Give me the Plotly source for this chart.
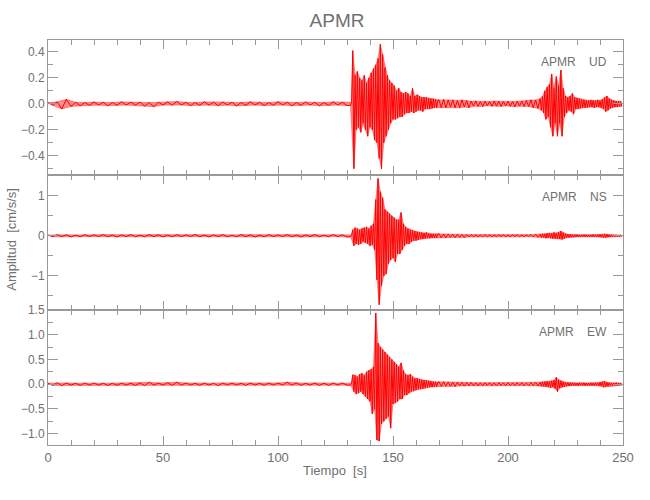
import plotly.graph_objects as go
from plotly.subplots import make_subplots

# ---------------- data (amplitudes, cm/s/s) ----------------
# sampling segments: (start time [s], sample step [s])
seg_pre = (0.0, 2.0)
seg_main = (131.5, 0.5)
seg_coda = (170.0, 1.0)
seg_late = (214.0, 0.5)

ud_pre = [0.010, -0.012, 0.015, -0.040, 0.035, -0.020, 0.012, -0.015, 0.010, -0.012,
          0.014, -0.010, 0.012, -0.015, 0.010, -0.012, 0.015, -0.010, 0.012, -0.010,
          0.014, -0.018, 0.010, -0.022, 0.012, -0.010, 0.015, -0.012, 0.018, -0.010,
          0.012, -0.014, 0.010, -0.012, 0.015, -0.010, 0.012, -0.015, 0.014, -0.010,
          0.012, -0.016, 0.010, -0.012, 0.015, -0.010, 0.012, -0.014, 0.010, -0.012,
          0.016, -0.010, 0.012, -0.015, 0.010, -0.012, 0.014, -0.010, 0.012, -0.015,
          0.010, -0.012, 0.015, -0.010, 0.012, -0.014]
ud_main = [-0.012, 0.012, 0.410, -0.500, 0.220, -0.200, 0.250, -0.180, 0.200, -0.220, 0.180,
           -0.150, 0.220, -0.200, 0.160, -0.250, 0.200, -0.180, 0.240, -0.200, 0.270,
           -0.280, 0.300, -0.300, 0.350, -0.420, 0.460, -0.500, 0.380, -0.300, 0.280,
           -0.250, 0.220, -0.200, 0.180, -0.150, 0.160, -0.120, 0.140, -0.120, 0.100,
           -0.110, 0.120, -0.100, 0.090, -0.100, 0.080, -0.080, 0.090, -0.070, 0.080,
           -0.070, 0.060, -0.060, 0.120, -0.070, 0.060, -0.060, 0.070, -0.050, 0.060,
           -0.050, 0.050, -0.060, 0.050, -0.040, 0.050, -0.040, 0.045, -0.040, 0.040,
           -0.035, 0.040, -0.030, 0.035, -0.030, 0.030]
ud_coda = [0.030, -0.030, 0.035, -0.030, 0.030, -0.025, 0.030, -0.030, 0.025, -0.030,
           0.030, -0.025, 0.025, -0.030, 0.020, -0.018, 0.022, -0.020, 0.018, -0.020,
           0.020, -0.015, 0.018, -0.020, 0.022, -0.018, 0.020, -0.020, 0.018, -0.016,
           0.020, -0.020, 0.018, -0.022, 0.020, -0.018, 0.020, -0.020, 0.025, -0.020,
           0.030, -0.030, 0.030, -0.035]
ud_late = [0.040, -0.050, 0.060, -0.070, 0.100, -0.120, 0.130, -0.100, 0.150, -0.180,
           0.230, -0.250, 0.120, -0.150, 0.210, -0.250, 0.140, -0.150, 0.260, -0.250,
           0.120, -0.100, 0.060, -0.070, 0.050, -0.050, 0.060, -0.060, 0.080, -0.080,
           0.050, -0.040, 0.045, -0.040, 0.040, -0.035, 0.035, -0.030, 0.030, -0.030,
           0.025, -0.030, 0.025, -0.025, 0.030, -0.025, 0.025, -0.030, 0.025, -0.025,
           0.030, -0.025, 0.025, -0.030, 0.035, -0.040, 0.050, -0.060, 0.060, -0.050,
           0.040, -0.035, 0.030, -0.030, 0.025, -0.025, 0.020, -0.025, 0.020, -0.020,
           0.020, -0.020]

ns_pre = [0.020, -0.025, 0.030, -0.020, 0.025, -0.030, 0.020, -0.025, 0.030, -0.020,
          0.025, -0.020, 0.030, -0.025, 0.020, -0.030, 0.025, -0.020, 0.030, -0.025,
          0.020, -0.025, 0.030, -0.020, 0.025, -0.030, 0.020, -0.025, 0.030, -0.020,
          0.025, -0.020, 0.030, -0.025, 0.020, -0.030, 0.025, -0.020, 0.030, -0.025,
          0.020, -0.025, 0.030, -0.020, 0.025, -0.030, 0.020, -0.025, 0.030, -0.020,
          0.025, -0.020, 0.030, -0.025, 0.020, -0.030, 0.025, -0.020, 0.030, -0.025,
          0.020, -0.025, 0.030, -0.020, 0.025, -0.030]
ns_main = [-0.025, 0.020, 0.150, -0.250, 0.200, -0.200, 0.180, -0.220, 0.150, -0.200, 0.180,
           -0.150, 0.200, -0.180, 0.220, -0.200, 0.180, -0.250, 0.250, -0.220, 0.300,
           -0.350, 0.900, -1.100, 1.430, -1.720, 1.100, -1.250, 0.950, -1.000, 0.660,
           -0.950, 0.600, -0.700, 0.550, -0.600, 0.500, -0.550, 0.450, -0.650, 0.400,
           -0.450, 0.400, -0.450, 0.580, -0.350, 0.300, -0.250, 0.220, -0.200, 0.180,
           -0.200, 0.150, -0.150, 0.140, -0.120, 0.120, -0.120, 0.100, -0.100, 0.090,
           -0.080, 0.080, -0.080, 0.070, -0.070, 0.080, -0.060, 0.060, -0.060, 0.050,
           -0.050, 0.050, -0.050, 0.050, -0.050, 0.050]
ns_coda = [0.050, -0.050, 0.045, -0.050, 0.045, -0.040, 0.040, -0.045, 0.040, -0.035,
           0.035, -0.040, 0.030, -0.030, 0.030, -0.025, 0.025, -0.030, 0.025, -0.025,
           0.030, -0.025, 0.025, -0.025, 0.020, -0.025, 0.025, -0.020, 0.025, -0.025,
           0.020, -0.025, 0.025, -0.020, 0.025, -0.025, 0.020, -0.025, 0.025, -0.020,
           0.030, -0.030, 0.040, -0.035]
ns_late = [0.040, -0.045, 0.050, -0.040, 0.050, -0.060, 0.060, -0.050, 0.070, -0.060,
           0.060, -0.070, 0.080, -0.070, 0.070, -0.080, 0.090, -0.080, 0.115, -0.090,
           0.080, -0.070, 0.050, -0.050, 0.040, -0.040, 0.035, -0.035, 0.030, -0.035,
           0.030, -0.030, 0.030, -0.025, 0.025, -0.030, 0.025, -0.025, 0.030, -0.025,
           0.025, -0.025, 0.025, -0.030, 0.025, -0.025, 0.030, -0.025, 0.025, -0.030,
           0.030, -0.030, 0.035, -0.035, 0.040, -0.045, 0.050, -0.050, 0.040, -0.035,
           0.030, -0.030, 0.025, -0.025, 0.025, -0.025, 0.025, -0.020, 0.020, -0.025,
           0.025, -0.020]

ew_pre = [0.020, -0.025, 0.030, -0.030, 0.025, -0.020, 0.020, -0.025, 0.025, -0.020,
          0.025, -0.020, 0.020, -0.025, 0.020, -0.025, 0.025, -0.020, 0.020, -0.025,
          0.025, -0.030, 0.040, -0.020, 0.025, -0.020, 0.030, -0.025, 0.040, -0.020,
          0.025, -0.020, 0.020, -0.025, 0.025, -0.020, 0.020, -0.030, 0.025, -0.020,
          0.025, -0.020, 0.020, -0.025, 0.025, -0.020, 0.020, -0.025, 0.025, -0.020,
          0.025, -0.020, 0.040, -0.020, 0.025, -0.025, 0.020, -0.020, 0.025, -0.025,
          0.020, -0.025, 0.025, -0.020, 0.025, -0.020]
ew_main = [-0.020, 0.020, 0.190, -0.150, 0.180, -0.200, 0.150, -0.180, 0.200, -0.150, 0.220,
           -0.200, 0.180, -0.250, 0.250, -0.300, 0.280, -0.350, 0.300, -0.600, 0.350,
           -0.500, 1.440, -1.130, 0.830, -1.150, 0.750, -0.800, 0.700, -0.750, 0.650,
           -0.700, 0.600, -0.650, 0.550, -0.890, 0.500, -0.400, 0.450, -0.380, 0.400,
           -0.350, 0.350, -0.300, 0.430, -0.300, 0.280, -0.220, 0.200, -0.220, 0.180,
           -0.180, 0.200, -0.150, 0.150, -0.140, 0.120, -0.120, 0.120, -0.100, 0.100,
           -0.100, 0.090, -0.090, 0.080, -0.080, 0.080, -0.070, 0.070, -0.060, 0.060,
           -0.060, 0.050, -0.050, 0.050, -0.050, 0.040]
ew_coda = [0.050, -0.045, 0.050, -0.040, 0.045, -0.040, 0.040, -0.045, 0.040, -0.035,
           0.035, -0.040, 0.035, -0.030, 0.035, -0.030, 0.030, -0.035, 0.030, -0.030,
           0.030, -0.025, 0.030, -0.030, 0.025, -0.030, 0.030, -0.025, 0.025, -0.030,
           0.030, -0.025, 0.025, -0.030, 0.030, -0.025, 0.030, -0.030, 0.025, -0.030,
           0.035, -0.030, 0.040, -0.035]
ew_late = [0.040, -0.040, 0.050, -0.045, 0.050, -0.050, 0.060, -0.055, 0.060, -0.070,
           0.070, -0.060, 0.080, -0.090, 0.140, -0.150, 0.090, -0.080, 0.070, -0.060,
           0.050, -0.050, 0.040, -0.040, 0.035, -0.035, 0.030, -0.030, 0.030, -0.030,
           0.030, -0.025, 0.025, -0.030, 0.030, -0.025, 0.025, -0.025, 0.030, -0.030,
           0.025, -0.025, 0.025, -0.030, 0.030, -0.025, 0.025, -0.030, 0.030, -0.025,
           0.030, -0.035, 0.040, -0.040, 0.050, -0.060, 0.060, -0.050, 0.040, -0.040,
           0.030, -0.030, 0.025, -0.030, 0.025, -0.025, 0.030, -0.025, 0.025, -0.025,
           0.025, -0.020]

station = "APMR"
components = ["UD", "NS", "EW"]
traces = {
    "UD": [(seg_pre, ud_pre), (seg_main, ud_main), (seg_coda, ud_coda), (seg_late, ud_late)],
    "NS": [(seg_pre, ns_pre), (seg_main, ns_main), (seg_coda, ns_coda), (seg_late, ns_late)],
    "EW": [(seg_pre, ew_pre), (seg_main, ew_main), (seg_coda, ew_coda), (seg_late, ew_late)],
}
y_ranges = {"UD": [-0.549, 0.492], "NS": [-1.85, 1.515], "EW": [-1.23, 1.5]}
y_dtick = {"UD": (0.2, 0.1, ".1f"), "NS": (1, 0.5, "d"), "EW": (0.5, 0.25, ".1f")}
x_range = [0, 250]


def build(segments):
    t, a = [], []
    for (t0, dt), vals in segments:
        for i, v in enumerate(vals):
            t.append(t0 + dt * i)
            a.append(v)
    return t, a


FONT = "Liberation Sans, Arial, sans-serif"
TXT = "#707070"
AX = "#999999"

fig = make_subplots(rows=3, cols=1, shared_xaxes=True, vertical_spacing=0)

for r, comp in enumerate(components, start=1):
    t, a = build(traces[comp])
    # envelope band (positive peaks forward, negative peaks back) for the dense look
    up = [(ti, ai) for ti, ai in zip(t, a) if ai >= 0]
    lo = [(ti, ai) for ti, ai in zip(t, a) if ai < 0]
    px = [p[0] for p in up] + [p[0] for p in reversed(lo)]
    py = [p[1] for p in up] + [p[1] for p in reversed(lo)]
    fig.add_trace(go.Scatter(x=px, y=py, mode="lines", fill="toself",
                             fillcolor="rgba(255,0,0,0.45)",
                             line=dict(color="rgba(255,0,0,0.6)", width=0.6),
                             hoverinfo="skip", showlegend=False), row=r, col=1)
    fig.add_trace(go.Scatter(x=t, y=a, mode="lines",
                             line=dict(color="#ff0000", width=1),
                             hoverinfo="skip", showlegend=False), row=r, col=1)
    major, minor, fmt = y_dtick[comp]
    fig.update_yaxes(range=y_ranges[comp], dtick=major, tick0=0, tickformat=fmt,
                     ticks="inside", ticklen=10, tickcolor=AX, tickwidth=1,
                     minor=dict(dtick=minor, tick0=0, ticks="inside", ticklen=5,
                                tickcolor=AX, showgrid=False),
                     showline=True, linecolor=AX, linewidth=1, mirror="ticks",
                     showgrid=False, zeroline=False,
                     tickfont=dict(family=FONT, size=12, color=TXT),
                     row=r, col=1)
    fig.update_xaxes(range=x_range, dtick=50, tick0=0,
                     ticks="inside", ticklen=9, tickcolor=AX, tickwidth=1,
                     minor=dict(dtick=10, tick0=0, ticks="inside", ticklen=5,
                                tickcolor=AX, showgrid=False),
                     showline=True, linecolor=AX, linewidth=1, mirror="ticks",
                     showgrid=False, zeroline=False,
                     showticklabels=(r == 3),
                     tickfont=dict(family=FONT, size=13, color=TXT),
                     row=r, col=1)
    yref = "y domain" if r == 1 else f"y{r} domain"
    xref = "x" if r == 1 else f"x{r}"
    fig.add_annotation(text=f"{station}\u00a0\u00a0\u00a0\u00a0{comp}", xref=xref, yref=yref,
                       x=244, y=0.84, xanchor="right", yanchor="middle", showarrow=False,
                       font=dict(family=FONT, size=12, color=TXT))

fig.add_annotation(text="Tiempo\u00a0\u00a0[s]", xref="paper", yref="paper",
                   x=0.499, y=-0.062, xanchor="center", yanchor="middle", showarrow=False,
                   font=dict(family=FONT, size=13, color=TXT))
fig.add_annotation(text="Amplitud\u00a0\u00a0[cm/s/s]", xref="paper", yref="paper",
                   x=-0.0626, y=0.507, xanchor="center", yanchor="middle", textangle=-90,
                   showarrow=False, font=dict(family=FONT, size=13, color=TXT))

fig.update_layout(
    width=650, height=500,
    margin=dict(l=48, r=27, t=40, b=55),
    paper_bgcolor="white", plot_bgcolor="white",
    title=dict(text=station, x=337 / 650, xanchor="center", y=1 - 20 / 500, yanchor="middle",
               font=dict(family=FONT, size=19, color=TXT)),
    showlegend=False,
)

fig.write_html("out.html",
               config={"displayModeBar": False, "staticPlot": True},
               post_script="document.body.style.margin='0';document.body.style.padding='0';")
